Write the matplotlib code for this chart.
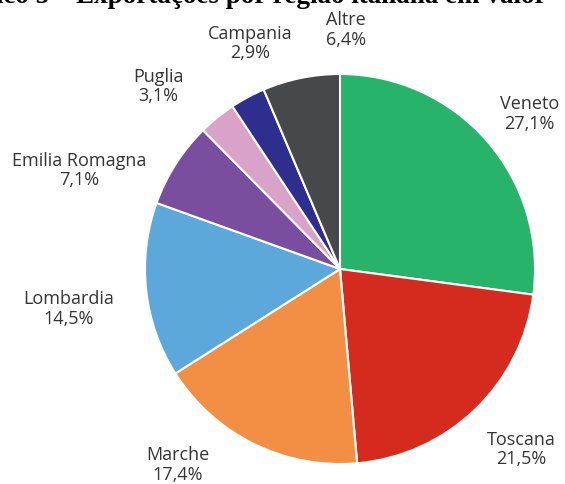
import matplotlib.pyplot as plt

# Dati: quota export per regione (%)
regioni = ["Veneto", "Toscana", "Marche", "Lombardia", "Emilia Romagna",
           "Puglia", "Campania", "Altre"]
quote = [27.1, 21.5, 17.4, 14.5, 7.1, 3.1, 2.9, 6.4]
etichette = ["27,1%", "21,5%", "17,4%", "14,5%", "7,1%", "3,1%", "2,9%", "6,4%"]
colori = ["#27B36A", "#D52B1E", "#F28F45", "#5CA8DA", "#7A4E9F",
          "#D8A2C9", "#2D2E8E", "#46484A"]

# posizione delle etichette (coordinate in unità di raggio)
pos_etichette = [(0.97, 0.80), (0.93, -0.92), (-0.83, -1.00), (-1.39, -0.20),
                 (-1.34, 0.51), (-0.93, 0.94), (-0.46, 1.16), (0.03, 1.23)]

fig = plt.figure(figsize=(5.65, 4.85), dpi=100)
ax = fig.add_axes([0, 0, 1, 1])

ax.pie(quote, colors=colori, startangle=90, counterclock=False, radius=1,
       wedgeprops=dict(edgecolor="white", linewidth=1.5))

for nome, val, (x, y) in zip(regioni, etichette, pos_etichette):
    ax.text(x, y, f"{nome}\n{val}", ha="center", va="center", fontsize=13,
            color="#353535", family="Open Sans", linespacing=1.1)

ax.set_xlim(-340 / 195, 225 / 195)
ax.set_ylim(-215 / 195, 270 / 195)
ax.set_aspect("auto")
ax.axis("off")

# titolo tagliato in alto (come nell'immagine originale)
stile_titolo = dict(va="baseline", fontsize=19.5, fontweight="bold",
                    family="Liberation Serif", color="black")
fig.text(70 / 565, 0.9938, "Gráfico 5 –", ha="right", **stile_titolo)
fig.text(76 / 565, 0.9938, "Exportações por região italiana em valor – (2016)",
         ha="left", **stile_titolo)

fig.savefig("out.png", dpi=100)
